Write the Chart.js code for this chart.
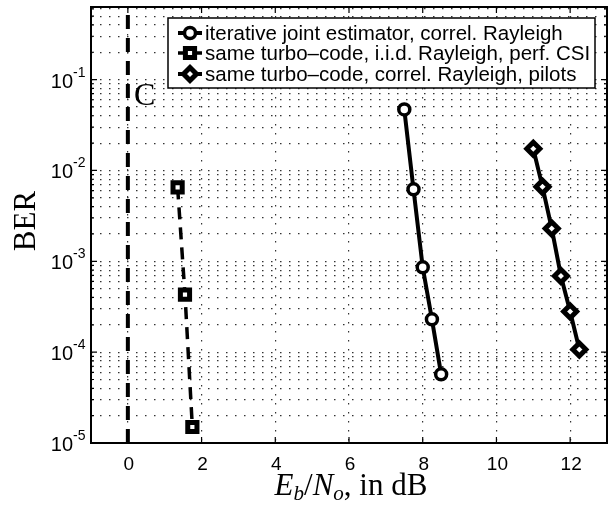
<!DOCTYPE html>
<html>
<head>
<meta charset="utf-8">
<script src="https://cdn.jsdelivr.net/npm/chart.js@4/dist/chart.umd.min.js"></script>
<style>
  html, body { margin: 0; padding: 0; background: #fff; }
  #wrap { width: 608px; height: 521px; }
</style>
</head>
<body>
<div id="wrap"><canvas id="ber" width="608" height="521"></canvas></div>
<script>
// BER curves vs Eb/No (dB)
const snrIter = [7.5, 7.75, 8.0, 8.25, 8.5];
const berIter = [4.7e-2, 6.2e-3, 8.6e-4, 2.3e-4, 5.7e-5];

const snrIid = [1.35, 1.55, 1.75];
const berIid = [6.5e-3, 4.3e-4, 1.5e-5];

const snrPilots = [11.0, 11.25, 11.5, 11.75, 12.0, 12.25];
const berPilots = [1.73e-2, 6.6e-3, 2.3e-3, 6.9e-4, 2.8e-4, 1.07e-4];

// capacity limit marked "C"
const capSnr = [0, 0];
const capBer = [1e-5, 0.63];

const xTicks = [0, 2, 4, 6, 8, 10, 12];
const yExponents = [-5, -4, -3, -2, -1];

const seriesLabels = [
  "iterative joint estimator, correl. Rayleigh",
  "same turbo\u2013code, i.i.d. Rayleigh, perf. CSI",
  "same turbo\u2013code, correl. Rayleigh, pilots",
];

const toPoints = (xs, ys) => xs.map((x, i) => ({ x: x, y: ys[i] }));

const SANS = '"Liberation Sans", Arial, Helvetica, sans-serif';
const SERIF = '"Liberation Serif", "Times New Roman", serif';

// minor + major log grid positions
function logGridValues(min, max) {
  const vals = [];
  for (let e = -6; e <= 0; e++) {
    for (let m = 1; m <= 9; m++) {
      const v = m * Math.pow(10, e);
      if (v >= min * 0.999 && v <= max * 1.001) vals.push(v);
    }
  }
  return vals;
}

const markerStyles = [
  { pointStyle: "circle", radius: 5.5, borderWidth: 3.5, dash: [], lineWidth: 4 },
  { pointStyle: "rect", radius: 6.5, borderWidth: 5, dash: [12, 8], lineWidth: 3.5 },
  { pointStyle: "rectRot", radius: 6.5, borderWidth: 5, dash: [], lineWidth: 4 },
];

const decorPlugin = {
  id: "decor",
  afterDraw(chart) {
    const ctx = chart.ctx;
    const area = chart.chartArea;
    const xs = chart.scales.x;
    const ys = chart.scales.y;
    ctx.save();

    // frame
    ctx.strokeStyle = "#000";
    ctx.lineWidth = 2;
    ctx.strokeRect(area.left, area.top, area.right - area.left, area.bottom - area.top);

    // inward tick marks
    ctx.lineWidth = 1.2;
    ctx.beginPath();
    xTicks.forEach((v) => {
      const px = xs.getPixelForValue(v);
      ctx.moveTo(px, area.bottom); ctx.lineTo(px, area.bottom - 6);
      ctx.moveTo(px, area.top); ctx.lineTo(px, area.top + 6);
    });
    logGridValues(ys.min, ys.max).forEach((v) => {
      const py = ys.getPixelForValue(v);
      const major = Math.abs(Math.log10(v) - Math.round(Math.log10(v))) < 1e-6;
      const len = major ? 6 : 3;
      ctx.moveTo(area.left, py); ctx.lineTo(area.left + len, py);
      ctx.moveTo(area.right, py); ctx.lineTo(area.right - len, py);
    });
    ctx.stroke();

    // x tick labels
    ctx.fillStyle = "#000";
    ctx.font = "19px " + SANS;
    ctx.textAlign = "center";
    ctx.textBaseline = "alphabetic";
    xTicks.forEach((v) => {
      ctx.fillText(String(v), xs.getPixelForValue(v) + 1, 470);
    });

    // y tick labels 10^e
    yExponents.forEach((e) => {
      const py = ys.getPixelForValue(Math.pow(10, e));
      ctx.font = "20px " + SANS;
      ctx.textAlign = "right";
      ctx.textBaseline = "alphabetic";
      ctx.fillText("10", 73, py + 8);
      ctx.font = "14px " + SANS;
      ctx.textAlign = "left";
      ctx.fillText("-" + Math.abs(e), 73, py - 3);
    });

    // y title
    ctx.save();
    ctx.translate(27, 221);
    ctx.rotate(-Math.PI / 2);
    ctx.font = "31px " + SERIF;
    ctx.textAlign = "center";
    ctx.textBaseline = "middle";
    ctx.fillText("BER", 0, 0);
    ctx.restore();

    // x title: E_b/N_o, in dB
    const big = 31, small = 21;
    const parts = [
      { t: "E", f: "italic " + big + "px " + SERIF, dy: 0 },
      { t: "b", f: "italic " + small + "px " + SERIF, dy: 5 },
      { t: "/", f: big + "px " + SERIF, dy: 0 },
      { t: "N", f: "italic " + big + "px " + SERIF, dy: 0 },
      { t: "o", f: "italic " + small + "px " + SERIF, dy: 5 },
      { t: ", in dB", f: big + "px " + SERIF, dy: 0 },
    ];
    let total = 0;
    parts.forEach((p) => { ctx.font = p.f; p.w = ctx.measureText(p.t).width; total += p.w; });
    let cx = 351 - total / 2;
    ctx.textAlign = "left";
    ctx.textBaseline = "alphabetic";
    parts.forEach((p) => { ctx.font = p.f; ctx.fillText(p.t, cx, 495 + p.dy); cx += p.w; });

    // capacity label
    ctx.font = "32px " + SERIF;
    ctx.fillText("C", 134, 105);

    // legend
    const lx = 168, ly = 18, lw = 427, lh = 70;
    ctx.fillStyle = "#fff";
    ctx.fillRect(lx, ly, lw, lh);
    ctx.strokeStyle = "#000";
    ctx.lineWidth = 1.5;
    ctx.strokeRect(lx, ly, lw, lh);
    const rows = [33, 53, 74];
    chart.data.datasets.slice(0, 3).forEach((ds, i) => {
      const st = markerStyles[i];
      const y = rows[i];
      ctx.strokeStyle = "#000";
      ctx.lineWidth = st.lineWidth;
      ctx.setLineDash([]);
      ctx.beginPath();
      ctx.moveTo(178, y); ctx.lineTo(202, y);
      ctx.stroke();
      ctx.fillStyle = "#fff";
      ctx.lineWidth = st.borderWidth;
      Chart.helpers.drawPoint(ctx, { pointStyle: st.pointStyle, radius: st.radius, borderWidth: st.borderWidth, rotation: 0 }, 190, y);
      ctx.fillStyle = "#000";
      ctx.font = "20.5px " + SANS;
      ctx.textAlign = "left";
      ctx.textBaseline = "middle";
      ctx.fillText(ds.label, 205, y + 1);
    });

    ctx.restore();
  },
};

const ds = (label, pts, i) => ({
  label: label,
  data: pts,
  showLine: true,
  borderColor: "#000",
  borderWidth: markerStyles[i].lineWidth,
  borderDash: markerStyles[i].dash,
  pointStyle: markerStyles[i].pointStyle,
  pointRadius: markerStyles[i].radius,
  pointBorderWidth: markerStyles[i].borderWidth,
  pointBorderColor: "#000",
  pointBackgroundColor: "#fff",
  tension: 0,
});

new Chart(document.getElementById("ber"), {
  type: "scatter",
  data: {
    datasets: [
      ds(seriesLabels[0], toPoints(snrIter, berIter), 0),
      ds(seriesLabels[1], toPoints(snrIid, berIid), 1),
      ds(seriesLabels[2], toPoints(snrPilots, berPilots), 2),
      {
        label: "C",
        data: toPoints(capSnr, capBer),
        showLine: true,
        borderColor: "#000",
        borderWidth: 4,
        borderDash: [14, 9],
        pointRadius: 0,
      },
    ],
  },
  options: {
    responsive: false,
    devicePixelRatio: 1,
    animation: false,
    layout: { autoPadding: false, padding: { top: 7, right: 1, left: 0, bottom: 0 } },
    plugins: {
      legend: { display: false },
      tooltip: { enabled: false },
    },
    scales: {
      x: {
        type: "linear",
        min: -1,
        max: 13,
        afterBuildTicks: (s) => { s.ticks = xTicks.map((v) => ({ value: v })); },
        afterFit: (s) => { s.height = 78; },
        ticks: { display: false },
        grid: { color: "#333", lineWidth: 1.2, drawTicks: false },
        border: { display: false, dash: [1.5, 7.5] },
      },
      y: {
        type: "logarithmic",
        min: 1e-5,
        max: 0.63,
        afterBuildTicks: (s) => { s.ticks = logGridValues(1e-5, 0.63).map((v) => ({ value: v })); },
        afterFit: (s) => { s.width = 91; },
        ticks: { display: false },
        grid: { color: "#333", lineWidth: 1.2, drawTicks: false },
        border: { display: false, dash: [1.5, 7.5] },
      },
    },
  },
  plugins: [decorPlugin],
});
</script>
</body>
</html>
